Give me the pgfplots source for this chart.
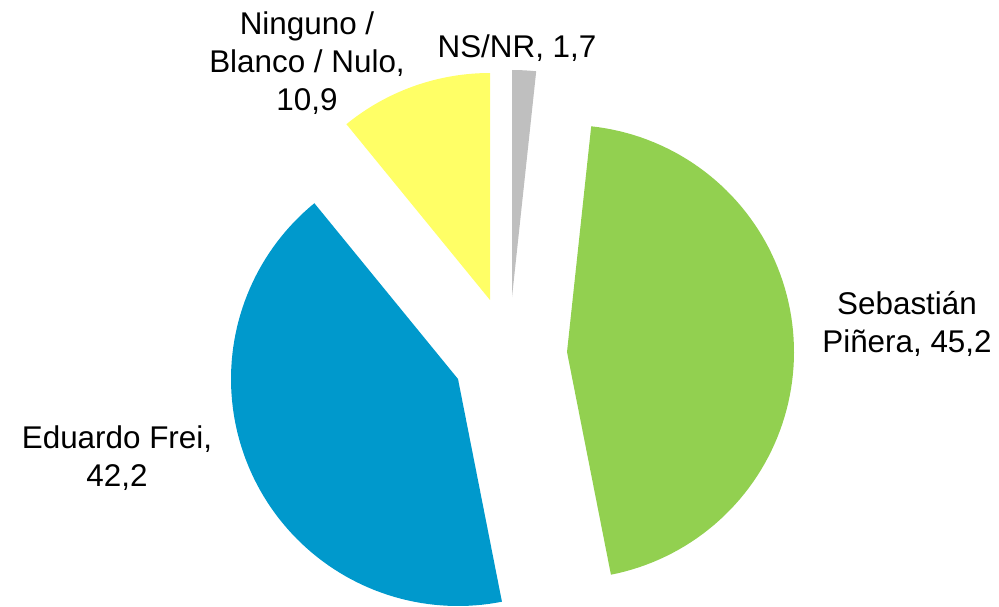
\documentclass[border=0pt]{standalone}
\usepackage{pgfplots}
\pgfplotsset{compat=1.18}
\usepackage{fontspec}
\setmainfont{Liberation Sans}
\definecolor{cgreen}{HTML}{92D050}
\definecolor{cblue}{HTML}{0099CC}
\definecolor{cyellow}{HTML}{FFFF66}
\definecolor{cgray}{HTML}{BFBFBF}
% slice: #1 colour, #2 vertex x, #3 vertex y, #4 start share (%), #5 share (%)
\newcommand\pieslice[5]{%
  \addplot[fill=#1, draw=none, domain={3.6*#4}:{3.6*(#4+#5)}, samples=90]
    ({#2+227*sin(x)}, {#3+227*cos(x)}) -- (axis cs:#2,#3) -- cycle;
}
\begin{document}
\begin{tikzpicture}
\begin{axis}[
  x=0.5pt, y=0.5pt,
  xmin=0, xmax=999, ymin=0, ymax=606,
  hide axis, clip=false,
]
% shares: NS/NR 1.7, Pinera 45.2, Frei 42.2, Ninguno 10.9 (clockwise from 12 o'clock)
\pieslice{cgray}{512}{309}{0}{1.7}
\pieslice{cgreen}{567}{254}{1.7}{45.2}
\pieslice{cblue}{458}{227}{46.9}{42.2}
\pieslice{cyellow}{490}{306}{89.1}{10.9}
\path[fill=none] (axis cs:0,0) (axis cs:999,606);
\begin{scope}[every node/.style={align=center, font=\fontsize{15.7}{19}\selectfont, inner sep=0pt}]
\node at (axis cs:307,543) {Ninguno /\\Blanco / Nulo,\\10,9};
\node at (axis cs:517,558) {NS/NR, 1,7};
\node at (axis cs:907,282) {Sebastián\\Piñera, 45,2};
\node at (axis cs:117,148) {Eduardo Frei,\\42,2};
\end{scope}
\end{axis}
\end{tikzpicture}
\end{document}
